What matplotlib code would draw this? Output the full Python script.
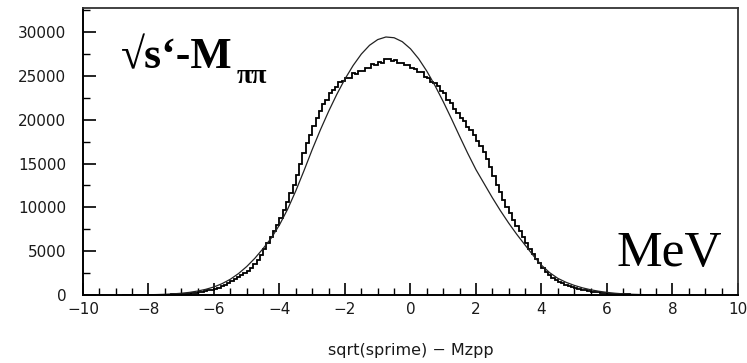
import numpy as np
import matplotlib
matplotlib.use("Agg")
import matplotlib.pyplot as plt
from matplotlib.ticker import MultipleLocator

# Histogram of sqrt(s') - M(pi pi) in 0.1 MeV bins, first bin starting at -8.8
bin_start = -8.8
bin_width = 0.1
counts = [
    5, 5, 8, 10, 10, 12, 15, 18, 20, 25,
    28, 32, 38, 45, 55, 65, 80, 95, 115, 140,
    170, 210, 260, 320, 380, 450, 530, 620, 720, 850,
    1000, 1180, 1380, 1600, 1820, 2000, 2250, 2480, 2750, 3100,
    3550, 4050, 4600, 5300, 5900, 6600, 7300, 8000, 8800, 9700,
    10600, 11600, 12600, 13700, 15000, 16200, 17300, 18300, 19300, 20200,
    21000, 21800, 22300, 23000, 23400, 23700, 24300, 24400, 24800, 24800,
    25300, 25200, 25600, 25600, 25900, 25900, 26300, 26200, 26600, 26500,
    26900, 26900, 26700, 26800, 26500, 26500, 26200, 26200, 25900, 25800,
    25400, 25400, 24900, 24800, 24300, 24200, 23800, 23300, 23000, 22300,
    21900, 21200, 20800, 20200, 19800, 19200, 18800, 18200, 17600, 17000,
    16300, 15500, 14600, 13600, 12600, 11700, 10800, 10000, 9300, 8600,
    7900, 7300, 6600, 5900, 5300, 4700, 4100, 3600, 3100, 2600,
    2250, 1950, 1700, 1500, 1320, 1150, 1020, 900, 800, 700,
    620, 540, 470, 400, 350, 300, 250, 210, 170, 145,
    125, 105, 88, 72, 60, 50, 42, 35, 30, 25,
    21, 18, 15, 12, 10, 8, 5,
]

# Fitted curve sampled every 0.25 MeV
fit_x = [
    -8.0, -7.75, -7.5, -7.25, -7.0, -6.75, -6.5, -6.25, -6.0, -5.75,
    -5.5, -5.25, -5.0, -4.75, -4.5, -4.25, -4.0, -3.75, -3.5, -3.25,
    -3.0, -2.75, -2.5, -2.25, -2.0, -1.75, -1.5, -1.25, -1.0, -0.75,
    -0.5, -0.25, 0.0, 0.25, 0.5, 0.75, 1.0, 1.25, 1.5, 1.75,
    2.0, 2.25, 2.5, 2.75, 3.0, 3.25, 3.5, 3.75, 4.0, 4.25,
    4.5, 4.75, 5.0, 5.25, 5.5, 5.75, 6.0, 6.25, 6.5, 6.75,
    7.0, 7.25, 7.5, 7.75, 8.0,
]
fit_y = [
    30, 50, 80, 130, 200, 300, 450, 650, 920, 1300,
    1800, 2450, 3250, 4200, 5300, 6500, 8000, 9800, 11900, 14200,
    16600, 18850, 20950, 22890, 24650, 26190, 27490, 28490, 29140, 29435,
    29350, 28900, 28090, 26950, 25530, 23880, 22060, 20120, 18110, 16150,
    14300, 12700, 11100, 9600, 8200, 6900, 5700, 4500, 3400, 2550,
    1900, 1450, 1100, 820, 600, 430, 300, 200, 130, 85,
    55, 35, 22, 12, 6,
]

x_label = "sqrt(sprime) \u2212 Mzpp"
x_ticks = [-10, -8, -6, -4, -2, 0, 2, 4, 6, 8, 10]
y_ticks = [0, 5000, 10000, 15000, 20000, 25000, 30000]

tick_family = ["DejaVu Sans"]
serif_family = ["Liberation Serif", "DejaVu Serif"]

fig = plt.figure(figsize=(7.47, 3.63), dpi=100)
ax = fig.add_axes([0.1111, 0.1873, 0.8768, 0.7906])

edges = bin_start + bin_width * np.arange(len(counts) + 1)
ax.stairs(counts, edges, color="black", linewidth=1.3, baseline=None)
ax.plot(fit_x, fit_y, color="#222222", linewidth=0.9)

ax.set_xlim(-10, 10)
ax.set_ylim(0, 32740)

ax.set_xticks(x_ticks)
ax.set_xticklabels([str(t).replace("-", "\u2212") for t in x_ticks])
ax.set_yticks(y_ticks)
ax.set_yticklabels([str(t) for t in y_ticks])
ax.xaxis.set_minor_locator(MultipleLocator(0.5))
ax.yaxis.set_minor_locator(MultipleLocator(2500))

for lab in ax.get_xticklabels() + ax.get_yticklabels():
    lab.set_fontfamily(tick_family)
    lab.set_fontsize(11)
    lab.set_color("#1a1a1a")

ax.tick_params(axis="both", which="major", direction="in", length=9,
               width=1.2, color="black")
ax.tick_params(axis="both", which="minor", direction="in", length=5,
               width=1.0, color="black")
ax.tick_params(axis="x", which="both", top=False, pad=5)
ax.tick_params(axis="y", which="both", right=False, pad=12)

for side in ("left", "bottom"):
    ax.spines[side].set_linewidth(1.4)
    ax.spines[side].set_color("black")
for side in ("top", "right"):
    ax.spines[side].set_linewidth(1.3)
    ax.spines[side].set_color("#333333")

ax.set_xlabel(x_label, fontsize=11.5, family=tick_family, color="#1a1a1a",
              labelpad=19)

# Title-like annotation inside the frame
title = ax.text(0.058, 0.791, "\u221as\u2018-M", transform=ax.transAxes,
                fontsize=31.5, fontweight="bold", family=serif_family,
                ha="left", va="baseline")
ax.annotate("\u03c0\u03c0", xy=(1.0, 0.0), xycoords=title,
            xytext=(3, -4.5), textcoords="offset points",
            fontsize=20, fontweight="bold", family=serif_family,
            ha="left", va="baseline")

ax.text(0.976, 0.1, "MeV", transform=ax.transAxes, fontsize=37,
        family=serif_family, ha="right", va="baseline")

fig.savefig("out.png", dpi=100)
